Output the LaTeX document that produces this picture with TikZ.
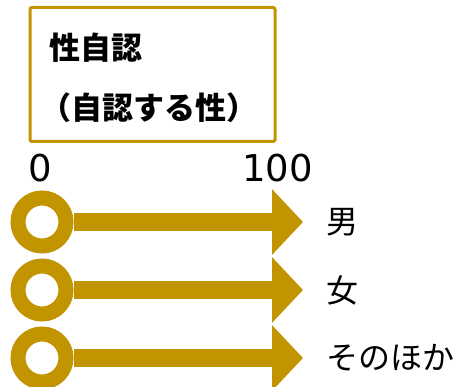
\documentclass[tikz,border=0pt]{standalone}
\usepackage{fontspec}
\setmainfont{Noto Sans CJK JP}
\newfontfamily\digitfont{DejaVu Sans}
\usetikzlibrary{arrows.meta}
\definecolor{gold}{RGB}{193,148,0}
\begin{document}
\begin{tikzpicture}[x=1pt,y=-1pt,
  titlebox/.style={draw=gold, line width=3pt, rounded corners=2pt, minimum width=245pt, minimum height=134pt, inner sep=0pt},
  titletext/.style={anchor=west, inner sep=0pt, font=\fontsize{31pt}{37pt}\selectfont\bfseries},
  digits/.style={inner sep=0pt, font=\fontsize{37pt}{44pt}\selectfont\digitfont},
  ring/.style={circle, draw=gold, line width=15pt, minimum size=48pt, inner sep=0pt},
  arr/.style={draw=gold, line width=18pt, -{Triangle[length=31pt,width=64pt]}},
  lab/.style={anchor=west, inner sep=0pt, font=\fontsize{32pt}{38pt}\selectfont}]
\useasboundingbox (0,0) rectangle (454,387);
\node[titlebox] (box) at (152.5,74.5) {};
\node[titletext] (l1) at (49,47.5) {性自認};
\node[titletext] (l2) at (40,108) {（自認する性）};
\node[digits] (d0) at (40,168.5) {0};
\node[digits] (d100) at (277.5,168.5) {100};
\foreach \i/\y/\t in {1/222/男, 2/290/女, 3/358/そのほか} {
  \node[ring] (c\i) at (42,\y) {};
  \coordinate (t\i) at (303,\y);
  \draw[arr] (c\i.east) -- (t\i);
  \node[lab] (n\i) at (326,\y) {\t};
}
\end{tikzpicture}
\end{document}
